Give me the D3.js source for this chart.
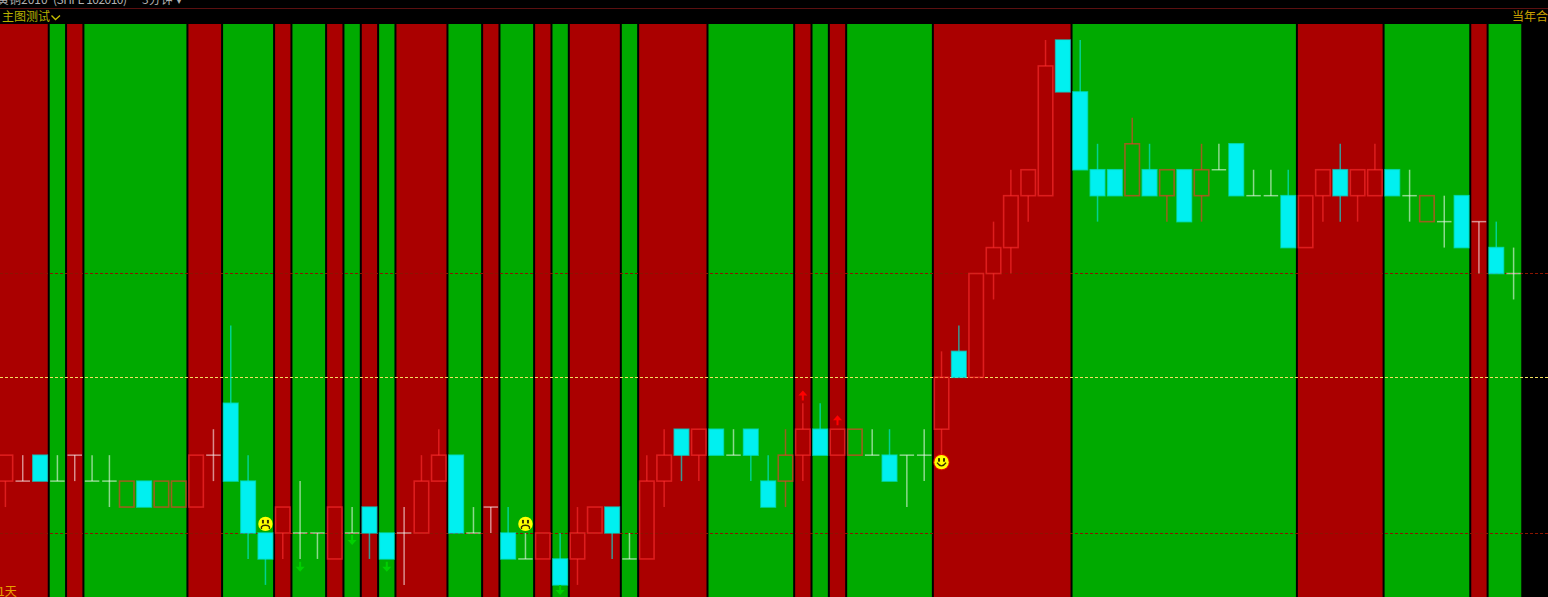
<!DOCTYPE html>
<meta charset="utf-8">
<script src="https://d3js.org/d3.v7.min.js"></script>
<style>
  html, body { margin: 0; padding: 0; background: #000; overflow: hidden; }
  text { font-family: "Noto Sans CJK SC", sans-serif; }
</style>
<div id="chart"></div>
<script>

// price values are in ticks above the lower dashed line
var opens  = [2,2,3,2,3,2,2,1,2,1,1,1,3,5,2,0,0,0,0,-1,0,1,0,0,0,2,3,0,1,0,-1,-1,-1,-1,0,1,-1,-1,2,4,3,4,3,4,2,2,3,4,3,3,3,3,3,3,4,7,6,10,11,13,13,19,17,14,14,13,14,13,14,13,14,15,13,13,13,11,13,14,13,13,14,13,12,12,13,12,11,10];
var closes = [3,2,2,2,3,2,2,2,1,2,2,3,3,2,0,-1,1,0,0,1,0,0,-1,0,2,3,0,0,1,-1,-1,0,-2,0,1,0,-1,2,3,3,4,3,3,3,1,3,4,3,4,4,3,2,3,3,6,6,10,11,13,14,18,17,14,13,13,15,13,14,12,14,14,13,13,13,11,13,14,13,14,14,13,13,13,12,11,12,10,10];
var highs  = [3,3,3,3,3,3,3,2,2,2,2,3,4,8,3,0,1,2,0,1,1,1,0,1,3,4,3,1,1,1,0,0,0,1,1,1,0,3,4,4,4,4,4,4,3,4,5,5,4,4,4,4,3,4,7,8,10,12,14,14,19,19,19,15,14,16,15,14,14,15,15,15,14,14,14,13,14,15,14,15,14,14,13,13,13,12,12,11];
var lows   = [1,2,2,2,2,2,1,1,1,1,1,1,2,2,-1,-2,-1,-1,-1,-1,0,-1,-1,-2,0,2,0,0,0,-1,-1,-1,-2,-2,0,-1,-1,-1,1,2,2,3,3,2,1,1,2,3,3,3,3,2,1,2,3,6,6,9,10,12,13,17,14,12,13,13,13,12,12,12,14,13,13,13,11,11,12,12,12,13,13,12,12,11,11,10,10,9];

// first candle of each background stretch, and its colour
var bandStarts = [0,3,4,5,11,13,16,17,19,20,21,22,23,26,28,29,31,32,33,36,37,41,46,47,48,49,54,62,75,80,85,86];
var bandKinds  = ["up","down","up","down","up","down","up","down","up","down","up","down","up","down","up","down","up","down","up","down","up","down","up","down","up","down","up","down","up","down","up","down"];

var refLevels = [0, 6, 10];
var refKinds  = ["low", "mid", "low"];

// signal icons: candle index and the level they sit at
var sadIdx   = [15, 30];
var sadLevel = [0.35, 0.35];
var smileIdx   = [54];
var smileLevel = [2.73];
var downIdx   = [17, 20, 22, 32];
var downLevel = [-1.3, -0.27, -1.3, -2.2];
var upIdx   = [46, 48];
var upLevel = [5.3, 4.35];

var width = 1548, height = 597;
var plotTop = 24;

var svg = d3.select("#chart").append("svg")
    .attr("width", width)
    .attr("height", height)
    .style("display", "block");

var x = d3.scaleLinear().domain([0, opens.length - 1]).range([5.4, 1513.6]);
var y = d3.scaleLinear().domain([0, 19]).range([533, 40]);
var candleW = 14.5;

var bandColor = d3.scaleOrdinal().domain(["up", "down"]).range(["#aa0000", "#00aa00"]);

// background stretches
svg.append("g").selectAll("rect")
    .data(bandStarts)
    .enter().append("rect")
    .attr("x", function(d) { return Math.max(0, x(d - 0.5) + 1); })
    .attr("y", plotTop)
    .attr("width", function(d, i) {
        var end = i < bandStarts.length - 1 ? bandStarts[i + 1] : opens.length;
        return x(end - 0.5) - 1 - Math.max(0, x(d - 0.5) + 1);
    })
    .attr("height", height - plotTop)
    .attr("fill", function(d, i) { return bandColor(bandKinds[i]); });

// dashed reference lines
svg.append("g").selectAll("line")
    .data(refLevels)
    .enter().append("line")
    .attr("x1", 0)
    .attr("x2", width)
    .attr("y1", function(d) { return Math.floor(y(d)) + 0.5; })
    .attr("y2", function(d) { return Math.floor(y(d)) + 0.5; })
    .attr("stroke", function(d, i) { return refKinds[i] === "mid" ? "#f4e060" : "#8c1400"; })
    .attr("stroke-dasharray", "3,2");

var candles = d3.range(opens.length);
var kindOf = function(i) {
    if (closes[i] > opens[i]) return "hollow";
    if (closes[i] < opens[i]) return "solid";
    return "doji";
};
var lineColor = { hollow: "#ff3030", solid: "#00e8e0", doji: "#ffffff" };
var lineAlpha = { hollow: 0.6, solid: 0.65, doji: 0.55 };

var g = svg.append("g");

// wicks stop at the body so the hollow ones stay clean inside
function addWick(cls, top, bottom) {
    g.selectAll("." + cls)
        .data(candles)
        .enter().append("line")
        .attr("class", cls)
        .attr("x1", function(i) { return x(i); })
        .attr("x2", function(i) { return x(i); })
        .attr("y1", function(i) { return y(top(i)); })
        .attr("y2", function(i) { return y(bottom(i)); })
        .attr("stroke", function(i) { return lineColor[kindOf(i)]; })
        .attr("stroke-opacity", function(i) { return lineAlpha[kindOf(i)]; })
        .attr("stroke-width", 1.5);
}
addWick("upper", function(i) { return highs[i]; }, function(i) { return Math.max(opens[i], closes[i]); });
addWick("lower", function(i) { return Math.min(opens[i], closes[i]); }, function(i) { return lows[i]; });

g.selectAll(".body")
    .data(candles.filter(function(i) { return kindOf(i) !== "doji"; }))
    .enter().append("rect")
    .attr("class", "body")
    .attr("x", function(i) { return x(i) - candleW / 2; })
    .attr("y", function(i) { return y(Math.max(opens[i], closes[i])); })
    .attr("width", candleW)
    .attr("height", function(i) { return y(Math.min(opens[i], closes[i])) - y(Math.max(opens[i], closes[i])); })
    .attr("fill", function(i) { return kindOf(i) === "solid" ? "#00f0f0" : "none"; })
    .attr("stroke", function(i) { return lineColor[kindOf(i)]; })
    .attr("stroke-opacity", function(i) { return lineAlpha[kindOf(i)]; })
    .attr("stroke-width", 1.6);

// doji cross bars
g.selectAll(".bar")
    .data(candles.filter(function(i) { return kindOf(i) === "doji"; }))
    .enter().append("line")
    .attr("class", "bar")
    .attr("x1", function(i) { return x(i) - candleW / 2; })
    .attr("x2", function(i) { return x(i) + candleW / 2; })
    .attr("y1", function(i) { return y(opens[i]); })
    .attr("y2", function(i) { return y(opens[i]); })
    .attr("stroke", lineColor.doji)
    .attr("stroke-opacity", lineAlpha.doji)
    .attr("stroke-width", 1.5);

// arrows: shaft plus a filled head
function arrow(sel, dir, color) {
    sel.append("path")
        .attr("d", "M-1,0V" + (-5 * dir) + "H1V0H4.5L0," + (5 * dir) + "L-4.5,0Z")
        .attr("fill", color);
}
var downG = svg.append("g").selectAll("g")
    .data(downIdx)
    .enter().append("g")
    .attr("transform", function(d, i) { return "translate(" + x(d) + "," + y(downLevel[i]) + ")"; });
arrow(downG, 1, "#00d000");
var upG = svg.append("g").selectAll("g")
    .data(upIdx)
    .enter().append("g")
    .attr("transform", function(d, i) { return "translate(" + x(d) + "," + y(upLevel[i]) + ")"; });
arrow(upG, -1, "#ff0000");

// faces
function face(sel, happy) {
    sel.append("circle").attr("r", 7.2).attr("fill", "#ffff00");
    sel.append("rect").attr("x", -3.5).attr("y", -4).attr("width", 2).attr("height", 3.5).attr("fill", "#3a3000");
    sel.append("rect").attr("x", 1.5).attr("y", -4).attr("width", 2).attr("height", 3.5).attr("fill", "#3a3000");
    sel.append("path")
        .attr("d", happy ? "M-4.5,0.5Q0,7 4.5,0.5" : "M-4,5V3Q-3,1.3 0,1.3Q3,1.3 4,3V5")
        .attr("fill", "none")
        .attr("stroke", "#3a3000")
        .attr("stroke-width", 1.4);
}
var sadG = svg.append("g").selectAll("g")
    .data(sadIdx)
    .enter().append("g")
    .attr("transform", function(d, i) { return "translate(" + x(d) + "," + y(sadLevel[i]) + ")"; });
face(sadG, false);
var smileG = svg.append("g").selectAll("g")
    .data(smileIdx)
    .enter().append("g")
    .attr("transform", function(d, i) { return "translate(" + x(d) + "," + y(smileLevel[i]) + ")"; });
smileG.append("circle").attr("r", 8.2).attr("fill", "#e01000");
face(smileG, true);

// header strip
svg.append("line")
    .attr("x1", 0).attr("x2", width)
    .attr("y1", 8.5).attr("y2", 8.5)
    .attr("stroke", "#5a1010");

function label(px, py, color, size, str) {
    return svg.append("text")
        .attr("x", px).attr("y", py)
        .attr("fill", color)
        .attr("font-size", size)
        .text(str);
}
label(-3, 4, "#b0b0b0", 12, "黄铜2010");
label(53, 4, "#b0b0b0", 12, "(SHFE 102010)").attr("textLength", 74);
label(142, 4, "#b0b0b0", 12, "3分钟");
label(176, 4, "#b0b0b0", 12, "▾");

label(2, 21, "#b8b000", 12, "主图测试");

svg.append("path")
    .attr("d", "M51.5,15.5L55.5,19.5L60,15.5")
    .attr("fill", "none")
    .attr("stroke", "#c8c000")
    .attr("stroke-width", 1.3);

label(1512, 21, "#c8a000", 12, "当年合");
label(-2, 596, "#e8a000", 12, "1天");

</script>
